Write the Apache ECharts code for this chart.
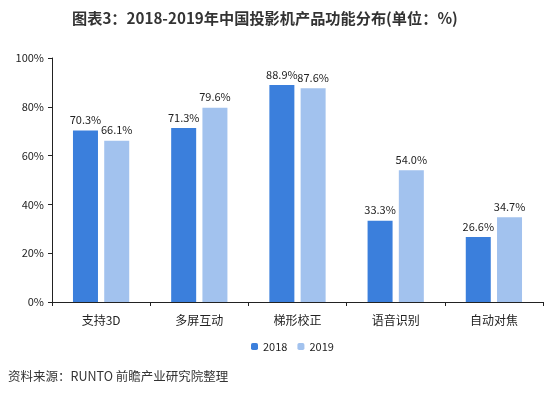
<!DOCTYPE html>
<html>
<head>
<meta charset="utf-8">
<script src="https://cdn.jsdelivr.net/npm/echarts@6/dist/echarts.min.js"></script>
<style>
  html, body { margin: 0; padding: 0; background: #fff; }
  #chart { width: 550px; height: 396px; }
</style>
</head>
<body>
<div id="chart"></div>
<script>
var categories = ['支持3D', '多屏互动', '梯形校正', '语音识别', '自动对焦'];
var values2018 = [70.3, 71.3, 88.9, 33.3, 26.6];
var values2019 = [66.1, 79.6, 87.6, 54.0, 34.7];
var seriesNames = ['2018', '2019'];

var myChart = echarts.init(document.getElementById('chart'));

var fontFamily = '"Microsoft YaHei", "Noto Sans CJK SC", sans-serif';

var labelStyle = {
    show: true,
    position: 'top',
    distance: 5,
    color: '#222',
    fontSize: 11,
    fontFamily: fontFamily,
    formatter: function (p) { return p.value.toFixed(1) + '%'; }
};

option = {
    backgroundColor: '#fff',
    title: {
        text: '图表3：2018-2019年中国投影机产品功能分布(单位：%)',
        left: 67,
        top: 6,
        textStyle: {
            fontSize: 15.2,
            fontWeight: 'bold',
            color: '#333',
            fontFamily: fontFamily
        }
    },
    legend: {
        data: seriesNames,
        top: 336,
        left: 246,
        itemWidth: 7,
        itemHeight: 7,
        itemGap: 10,
        textStyle: { fontSize: 11, color: '#222', fontFamily: fontFamily }
    },
    grid: {
        left: 52,
        right: 7,
        top: 58,
        bottom: 94
    },
    xAxis: {
        type: 'category',
        data: categories,
        axisLine: { lineStyle: { color: '#222', width: 1 } },
        axisTick: { show: true, alignWithLabel: false, length: 4, lineStyle: { color: '#222' } },
        axisLabel: { fontSize: 12, color: '#222', margin: 12, fontFamily: fontFamily }
    },
    yAxis: {
        type: 'value',
        min: 0,
        max: 100,
        interval: 20,
        splitLine: { show: false },
        axisLine: { show: true, lineStyle: { color: '#222', width: 1 } },
        axisTick: { show: true, length: 4, lineStyle: { color: '#222' } },
        axisLabel: {
            fontSize: 11,
            color: '#222',
            margin: 8,
            fontFamily: fontFamily,
            formatter: '{value}%'
        }
    },
    series: [
        {
            name: seriesNames[0],
            type: 'bar',
            data: values2018,
            barWidth: 25,
            barGap: '25%',
            itemStyle: { color: '#3b7fdc' },
            label: labelStyle
        },
        {
            name: seriesNames[1],
            type: 'bar',
            data: values2019,
            barWidth: 25,
            itemStyle: { color: '#a2c2ee' },
            label: labelStyle
        }
    ]
};

myChart.setOption(option);

var g = myChart.getZr();
g.add(new echarts.graphic.Text({
    style: {
        x: 8,
        y: 370,
        text: '资料来源：RUNTO 前瞻产业研究院整理',
        fill: '#333',
        fontSize: 12.5,
        fontFamily: fontFamily
    }
}));
</script>
</body>
</html>
